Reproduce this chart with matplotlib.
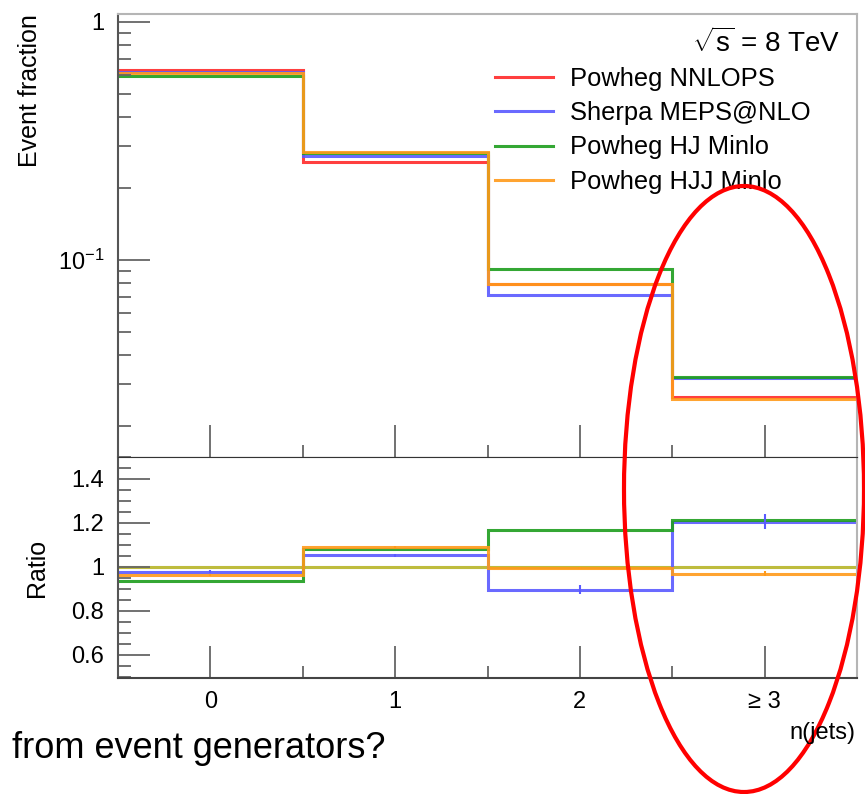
import matplotlib
matplotlib.use('Agg')
import matplotlib.pyplot as plt
from matplotlib.patches import Ellipse
from matplotlib.ticker import FixedLocator, FixedFormatter, LogLocator, NullFormatter, MultipleLocator

# jet multiplicity bins
bin_labels = ['0', '1', '2', '\u2265 3']
edges = [-0.5, 0.5, 1.5, 2.5, 3.5]
centers = [0, 1, 2, 3]

# event fractions
frac_nnlops = [0.628, 0.259, 0.0795, 0.0266]
frac_sherpa = [0.618, 0.274, 0.0711, 0.0319]
frac_hj = [0.590, 0.281, 0.0919, 0.0323]
frac_hjj = [0.612, 0.285, 0.0791, 0.0260]

# ratios to Powheg NNLOPS
ratio_nnlops = [1.0, 1.0, 1.0, 1.0]
ratio_sherpa = [0.979, 1.053, 0.897, 1.205]
ratio_hj = [0.938, 1.083, 1.168, 1.215]
ratio_hjj = [0.964, 1.092, 0.995, 0.970]
err_sherpa = [0.005, 0.006, 0.02, 0.034]
err_hjj = [0.003, 0.004, 0.006, 0.012]

names = ['Powheg NNLOPS', 'Sherpa MEPS@NLO', 'Powheg HJ Minlo', 'Powheg HJJ Minlo']
colors = ['#ff2a2a', '#5a5aff', '#1e9e1e', '#ff9a1a']

plt.rcParams['font.family'] = ['Liberation Sans', 'DejaVu Sans']
plt.rcParams['mathtext.fontset'] = 'custom'
plt.rcParams['mathtext.rm'] = 'Liberation Sans'
plt.rcParams['mathtext.it'] = 'Liberation Sans'

W, H = 865, 794
fig = plt.figure(figsize=(W / 100, H / 100), dpi=100)

def box(x0, y0, x1, y1):
    return [x0 / W, 1 - y1 / H, (x1 - x0) / W, (y1 - y0) / H]

ax = fig.add_axes(box(118, 14, 857, 457))
rax = fig.add_axes(box(118, 457, 857, 678))

lw = 2.2
for vals, c, n in zip([frac_nnlops, frac_sherpa, frac_hj, frac_hjj], colors, names):
    ax.stairs(vals, edges, baseline=None, color=c, lw=lw, alpha=0.9, label=n)

ax.set_yscale('log')
ax.set_ylim(0.01487, 1.08)
ax.set_xlim(-0.5, 3.5)
ax.yaxis.set_major_locator(FixedLocator([0.1, 1.0]))
ax.yaxis.set_major_formatter(FixedFormatter(['$10^{-1}$', '1']))
ax.yaxis.set_minor_locator(LogLocator(base=10, subs=range(2, 10)))
ax.yaxis.set_minor_formatter(NullFormatter())
ax.set_xticks(centers)
ax.set_xticks(edges, minor=True)
ax.set_xticklabels([])
ax.set_ylabel('Event fraction', fontsize=18, loc='top', labelpad=11)

# ratio panel
rax.plot([-0.5, 3.5], [1, 1], color='#999999', lw=lw, zorder=1)
rax.stairs(ratio_nnlops, edges, baseline=None, color='#d8d400', lw=lw, alpha=0.6)
rax.stairs(ratio_sherpa, edges, baseline=None, color=colors[1], lw=lw, alpha=0.9)
rax.errorbar(centers, ratio_sherpa, yerr=err_sherpa, fmt='none', ecolor=colors[1], elinewidth=1.5)
rax.stairs(ratio_hj, edges, baseline=None, color=colors[2], lw=lw, alpha=0.9)
rax.stairs(ratio_hjj, edges, baseline=None, color=colors[3], lw=lw, alpha=0.9)
rax.errorbar(centers, ratio_hjj, yerr=err_hjj, fmt='none', ecolor=colors[3], elinewidth=1.5)
rax.set_xlim(-0.5, 3.5)
rax.set_ylim(0.495, 1.5)
rax.yaxis.set_major_locator(FixedLocator([0.6, 0.8, 1.0, 1.2, 1.4]))
rax.yaxis.set_major_formatter(FixedFormatter(['0.6', '0.8', '1', '1.2', '1.4']))
rax.yaxis.set_minor_locator(MultipleLocator(0.05))
rax.set_xticks(centers)
rax.set_xticks(edges, minor=True)
rax.set_xticklabels(bin_labels)
rax.set_ylabel('Ratio', fontsize=18, labelpad=16)

for a in (ax, rax):
    a.tick_params(which='major', direction='in', length=23, width=1.3, color='#666666',
                  labelsize=17, pad=10, top=False, right=False)
    a.tick_params(which='minor', direction='in', length=9, width=1.3, color='#666666',
                  top=False, right=False)
    a.tick_params(axis='x', pad=9)
    a.spines['left'].set_color('#555555')
    a.spines['right'].set_color('#b5b5b5')
    a.spines['left'].set_linewidth(1.5)
    a.spines['right'].set_linewidth(1.5)
ax.spines['top'].set_color('#b5b5b5')
ax.spines['top'].set_linewidth(1.5)
ax.spines['bottom'].set_color('#333333')
rax.spines['top'].set_color('#333333')
rax.spines['bottom'].set_color('#444444')
rax.spines['bottom'].set_linewidth(1.5)

ax.legend(loc='upper left', bbox_to_anchor=(495 / W, 1 - 67 / H), bbox_transform=fig.transFigure,
          frameon=False, fontsize=18.4, handlelength=2.27, handletextpad=0.67, labelspacing=0.40,
          borderpad=0, borderaxespad=0)

fig.text(840 / W, 1 - 43 / H, r'$\sqrt{s}$ = 8 TeV', fontsize=20, ha='right', va='center')
fig.text(855 / W, 1 - 733 / H, 'n(jets)', fontsize=17, ha='right', va='center')
fig.text(12 / W, 1 - 758 / H, 'from event generators?', fontsize=26, ha='left', va='baseline')

fig.add_artist(Ellipse((744 / W, 1 - 489 / H), 240 / W, 606 / H, transform=fig.transFigure,
                       fill=False, ec='#ff0000', lw=3, clip_on=False))

fig.savefig('out.png', dpi=100)
